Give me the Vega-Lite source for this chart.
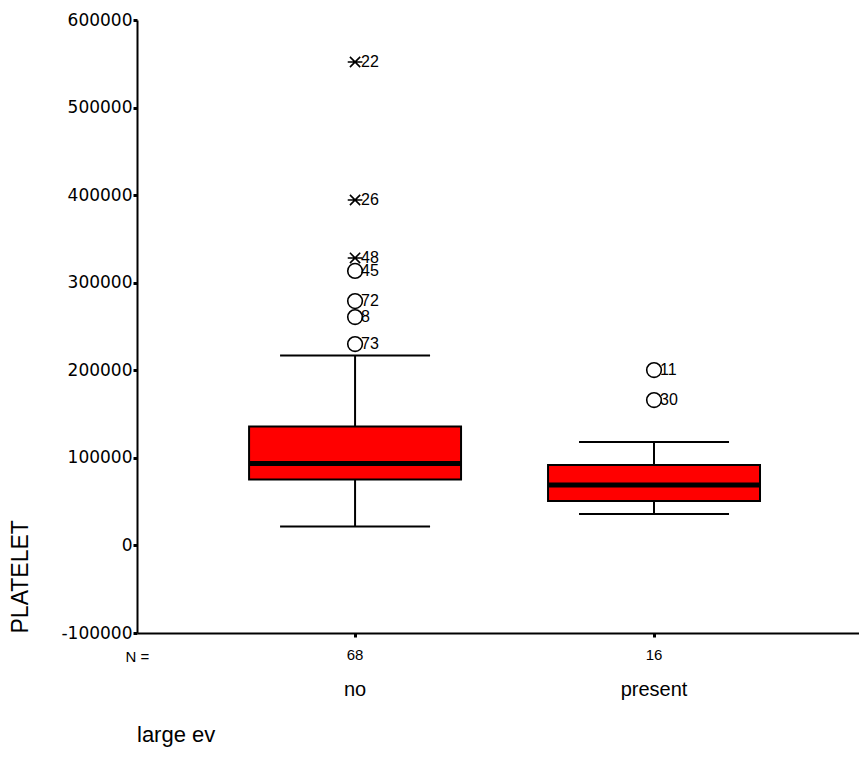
{
  "$schema": "https://vega.github.io/schema/vega-lite/v6.json",
  "width": 722,
  "height": 613,
  "autosize": {"type": "none"},
  "padding": {"left": 137, "top": 20, "right": 0, "bottom": 143},
  "background": "white",
  "title": {"text": "large ev", "orient": "bottom", "anchor": "start", "frame": "group", "font": "Liberation Sans", "fontSize": 22, "fontWeight": "normal", "color": "black", "offset": 26, "baseline": "top"},
  "datasets": {
    "boxes": [
      {"group": "no", "n": 68, "lower": 21700, "q1": 75300, "median": 93600, "q3": 135800, "upper": 216900},
      {"group": "present", "n": 16, "lower": 35900, "q1": 50700, "median": 69000, "q3": 91800, "upper": 118100}
    ],
    "outliers": [
      {"group": "no", "case": "22", "value": 552000, "kind": "extreme"},
      {"group": "no", "case": "26", "value": 394500, "kind": "extreme"},
      {"group": "no", "case": "48", "value": 328300, "kind": "extreme"},
      {"group": "no", "case": "45", "value": 313500, "kind": "outlier"},
      {"group": "no", "case": "72", "value": 279000, "kind": "outlier"},
      {"group": "no", "case": "8", "value": 260800, "kind": "outlier"},
      {"group": "no", "case": "73", "value": 230000, "kind": "outlier"},
      {"group": "present", "case": "11", "value": 200300, "kind": "outlier"},
      {"group": "present", "case": "30", "value": 166000, "kind": "outlier"}
    ]
  },
  "encoding": {
    "x": {
      "field": "group", "type": "nominal",
      "scale": {"type": "band", "domain": ["no", "present"], "paddingInner": 0.291, "paddingOuter": 0.353, "align": 0.531},
      "axis": {
        "title": "N =", "titleFont": "Liberation Sans", "titleFontSize": 15, "titleFontWeight": "normal", "titleColor": "black",
        "titleX": -12, "titleY": 23, "titleAlign": "left", "titleBaseline": "middle",
        "labelFont": "Liberation Sans", "labelFontSize": 20, "labelColor": "black", "labelPadding": 42, "labelAngle": 0,
        "domainColor": "black", "domainWidth": 2, "tickColor": "black", "tickSize": 4, "tickWidth": 3, "grid": false
      }
    }
  },
  "layer": [
    {
      "data": {"name": "boxes"},
      "mark": {"type": "rule", "color": "black", "strokeWidth": 2, "opacity": 1},
      "encoding": {
        "y": {
          "field": "lower", "type": "quantitative", "title": "PLATELET",
          "scale": {"domain": [-100000, 600000], "nice": false, "zero": false},
          "axis": {
            "values": [-100000, 0, 100000, 200000, 300000, 400000, 500000, 600000],
            "labelExpr": "replace(format(datum.value, 'd'), '\u2212', '-')",
            "labelFont": "DejaVu Sans", "labelFontSize": 17, "labelColor": "black", "labelPadding": 1,
            "domainColor": "black", "domainWidth": 2, "tickColor": "black", "tickSize": 4, "tickWidth": 3, "grid": false,
            "titleFont": "Liberation Sans", "titleFontSize": 23, "titleFontWeight": "normal", "titleColor": "black",
            "titleX": -117, "titleY": 613, "titleAlign": "left", "titleBaseline": "middle", "titleAngle": 270
          }
        },
        "y2": {"field": "upper"}
      }
    },
    {
      "data": {"name": "boxes"},
      "mark": {"type": "tick", "color": "black", "size": 150, "thickness": 2, "opacity": 1},
      "encoding": {"y": {"field": "lower", "type": "quantitative", "title": "PLATELET"}}
    },
    {
      "data": {"name": "boxes"},
      "mark": {"type": "tick", "color": "black", "size": 150, "thickness": 2, "opacity": 1},
      "encoding": {"y": {"field": "upper", "type": "quantitative", "title": "PLATELET"}}
    },
    {
      "data": {"name": "boxes"},
      "mark": {"type": "bar", "fill": "#ff0000", "stroke": "black", "strokeWidth": 2, "opacity": 1},
      "encoding": {
        "y": {"field": "q1", "type": "quantitative", "title": "PLATELET"},
        "y2": {"field": "q3"}
      }
    },
    {
      "data": {"name": "boxes"},
      "mark": {"type": "tick", "color": "black", "size": 212, "thickness": 5, "opacity": 1},
      "encoding": {"y": {"field": "median", "type": "quantitative", "title": "PLATELET"}}
    },
    {
      "data": {"name": "outliers"},
      "mark": {"type": "point", "filled": false, "stroke": "black", "strokeWidth": 1.6, "size": 215, "opacity": 1},
      "encoding": {
        "y": {"field": "value", "type": "quantitative", "title": "PLATELET"},
        "shape": {
          "field": "kind", "type": "nominal", "legend": null,
          "scale": {"domain": ["outlier", "extreme"], "range": ["circle", "M-1,0L1,0M-0.7,-0.7L0.7,0.7M-0.7,0.7L0.7,-0.7"]}
        }
      }
    },
    {
      "data": {"name": "outliers"},
      "mark": {"type": "text", "align": "left", "baseline": "middle", "dx": 6, "font": "Liberation Sans", "fontSize": 16, "color": "black"},
      "encoding": {
        "y": {"field": "value", "type": "quantitative", "title": "PLATELET"},
        "text": {"field": "case"}
      }
    },
    {
      "data": {"name": "boxes"},
      "mark": {"type": "text", "align": "center", "baseline": "middle", "font": "Liberation Sans", "fontSize": 15, "color": "black"},
      "encoding": {
        "y": {"datum": -125000, "type": "quantitative", "title": "PLATELET"},
        "text": {"field": "n"}
      }
    }
  ],
  "config": {"view": {"stroke": null}}
}
